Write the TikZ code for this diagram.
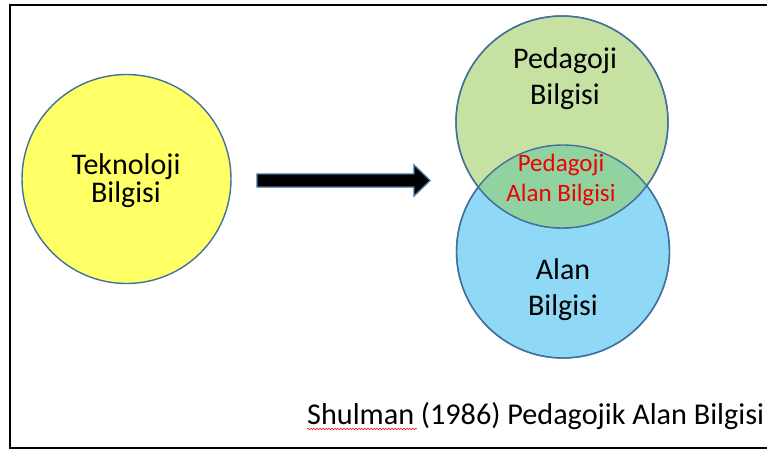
\documentclass[tikz,border=0pt]{standalone}
\usepackage{fontspec}
\setmainfont{Carlito}
\usetikzlibrary{decorations.pathmorphing}

\definecolor{edgeblue}{RGB}{65,113,156}
\definecolor{techfill}{RGB}{255,255,102}
\definecolor{pedfill}{RGB}{198,225,162}
\definecolor{contfill}{RGB}{143,217,247}
\definecolor{pckfill}{RGB}{144,210,160}
\definecolor{pckred}{RGB}{240,0,0}

\tikzset{
  area/.style={circle, draw=edgeblue, line width=1.4pt, inner sep=0pt},
  label text/.style={align=center, inner sep=0pt, text=black,
    font=\fontsize{30}{36}\selectfont},
}

\begin{document}
\begin{tikzpicture}[x=1pt, y=-1pt]
\useasboundingbox (0,0) rectangle (767,450);

% frame (open on the right)
\draw[line width=2.6pt] (767,4.8) -- (10,4.8) -- (10,448) -- (767,448);

% technology knowledge
\node[area, fill=techfill, minimum size=209pt] (tech) at (126.5,179) {};
\node[label text, font=\fontsize{30}{28.5}\selectfont] (techtxt) at (126,180.5) {Teknoloji\\Bilgisi};

% block arrow
\filldraw[fill=black, draw=edgeblue, line width=1.3pt]
  (257,174) -- (414,174) -- (414,165) -- (430,180.5) -- (414,196) -- (414,187) -- (257,187) -- cycle;

% content and pedagogy knowledge
\node[area, fill=contfill, minimum size=213pt] (cont) at (563,251.5) {};
\node[area, fill=pedfill, minimum size=212pt] (ped) at (562,122) {};
\begin{scope}
  \clip (ped.center) circle (106pt);
  \fill[pckfill] (cont.center) circle (106.5pt);
\end{scope}
\draw[edgeblue, line width=1.4pt] (ped.center) circle (106pt);
\draw[edgeblue, line width=1.4pt] (cont.center) circle (106.5pt);

\node[label text] (pedtxt) at (565,78.5) {Pedagoji\\Bilgisi};
\node[label text] (conttxt) at (563,290) {Alan\\Bilgisi};
\node[align=center, inner sep=0pt, text=pckred, font=\fontsize{25}{30}\selectfont] (pcktxt) at (561,180) {Pedagoji\\Alan Bilgisi};

% source line
\node[anchor=base west, inner sep=0pt, font=\fontsize{30.2}{34}\selectfont] (src) at (307,424) {Shulman (1986) Pedagojik Alan Bilgisi};
\draw[red, line width=0.5pt, decorate, decoration={snake, amplitude=0.8pt, segment length=3pt}]
  ([yshift=-5pt]src.base west) -- ++(110,0);
\end{tikzpicture}
\end{document}
